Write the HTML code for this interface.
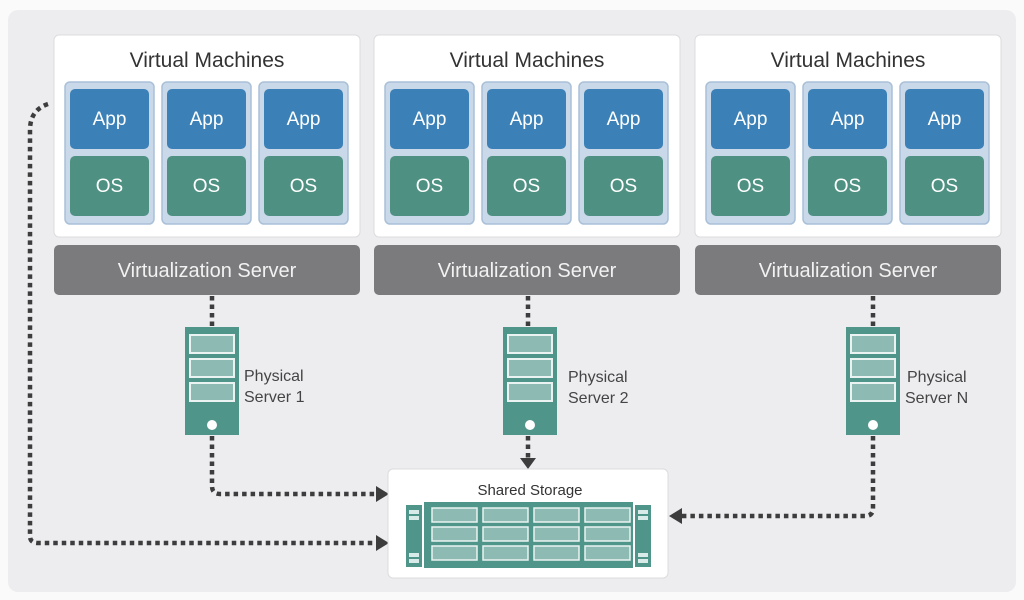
<!DOCTYPE html>
<html><head><meta charset="utf-8"><style>
html,body{margin:0;padding:0;background:#fafafa;}
svg{display:block;font-family:"Liberation Sans","DejaVu Sans",sans-serif;}
</style></head><body>
<svg width="1024" height="600" viewBox="0 0 1024 600" xmlns="http://www.w3.org/2000/svg">
<defs>
<g id="vm">
<rect x="0" y="0" width="89" height="142" rx="5" fill="#c9d9ea" stroke="#a9c0d8" stroke-width="1.5"/>
<rect x="5" y="7" width="79" height="60" rx="5" fill="#3b80b6"/>
<rect x="5" y="74" width="79" height="60" rx="5" fill="#4e9183"/>
<text x="44.5" y="43" font-size="19" fill="#fff" text-anchor="middle">App</text>
<text x="44.5" y="110" font-size="19" fill="#fff" text-anchor="middle">OS</text>
</g>
<g id="panel">
<rect x="0" y="0" width="306" height="202" rx="5" fill="#fff" stroke="#dcdcdc"/>
<text x="153" y="32" font-size="21" fill="#333" text-anchor="middle">Virtual Machines</text>
<use href="#vm" x="11" y="47"/>
<use href="#vm" x="108" y="47"/>
<use href="#vm" x="205" y="47"/>
<rect x="0" y="210" width="306" height="50" rx="5" fill="#7b7b7d"/>
<text x="153" y="242" font-size="20" fill="#f2f2f2" text-anchor="middle">Virtualization  Server</text>
</g>
<g id="server">
<rect x="0" y="0" width="54" height="108" fill="#4f9589"/>
<rect x="5" y="8" width="44" height="18" fill="#8dbab2" stroke="#eaf3f1" stroke-width="2"/>
<rect x="5" y="32" width="44" height="18" fill="#8dbab2" stroke="#eaf3f1" stroke-width="2"/>
<rect x="5" y="56" width="44" height="18" fill="#8dbab2" stroke="#eaf3f1" stroke-width="2"/>
<circle cx="27" cy="98" r="5" fill="#fff"/>
</g>
</defs>
<rect x="8" y="10" width="1008" height="582" rx="10" fill="#ededf0"/>
<use href="#panel" x="54" y="35"/>
<use href="#panel" x="374" y="35"/>
<use href="#panel" x="695" y="35"/>

<g stroke="#3d3d3d" stroke-width="4.5" stroke-dasharray="4.5 4" fill="none">
<path d="M212 296 V327"/>
<path d="M528 296 V327"/>
<path d="M873 296 V327"/>
<path d="M212 436 V486 Q212 494 220 494 H376"/>
<path d="M528 436 V458"/>
<path d="M873 436 V508 Q873 516 865 516 H682"/>
<path d="M48 104 Q30 110 30 130 V536 Q30 543 38 543 H376"/>
</g>
<g fill="#3d3d3d">
<polygon points="376,486 389,494 376,502"/>
<polygon points="376,535 389,543 376,551"/>
<polygon points="520,458 536,458 528,469"/>
<polygon points="682,508 669,516 682,524"/>
</g>
<use href="#server" x="185" y="327"/>
<use href="#server" x="503" y="327"/>
<use href="#server" x="846" y="327"/>
<g font-size="16" fill="#444">
<text x="244" y="381">Physical</text><text x="244" y="402">Server 1</text>
<text x="568" y="382">Physical</text><text x="568" y="403">Server 2</text>
<text x="907" y="382">Physical</text><text x="905" y="403">Server N</text>
</g>
<rect x="388" y="469" width="280" height="109" rx="5" fill="#fff" stroke="#dcdcdc"/>
<text x="530" y="495" font-size="15" fill="#333" text-anchor="middle">Shared Storage</text>
<rect x="406" y="505" width="16" height="62" fill="#4f9589"/>
<rect x="635" y="505" width="16" height="62" fill="#4f9589"/>
<g fill="#d9ebe8"><rect x="409" y="510" width="10" height="4"/><rect x="409" y="516" width="10" height="4"/><rect x="409" y="553" width="10" height="4"/><rect x="409" y="559" width="10" height="4"/>
<rect x="638" y="510" width="10" height="4"/><rect x="638" y="516" width="10" height="4"/><rect x="638" y="553" width="10" height="4"/><rect x="638" y="559" width="10" height="4"/></g>
<rect x="424" y="502" width="209" height="66" fill="#4f9589"/>
<g fill="#8dbab2" stroke="#eaf3f1" stroke-width="1.5">
<rect x="432" y="508" width="45" height="14"/><rect x="483" y="508" width="45" height="14"/><rect x="534" y="508" width="45" height="14"/><rect x="585" y="508" width="45" height="14"/>
<rect x="432" y="527" width="45" height="14"/><rect x="483" y="527" width="45" height="14"/><rect x="534" y="527" width="45" height="14"/><rect x="585" y="527" width="45" height="14"/>
<rect x="432" y="546" width="45" height="14"/><rect x="483" y="546" width="45" height="14"/><rect x="534" y="546" width="45" height="14"/><rect x="585" y="546" width="45" height="14"/>
</g>
</svg>
</body></html>
